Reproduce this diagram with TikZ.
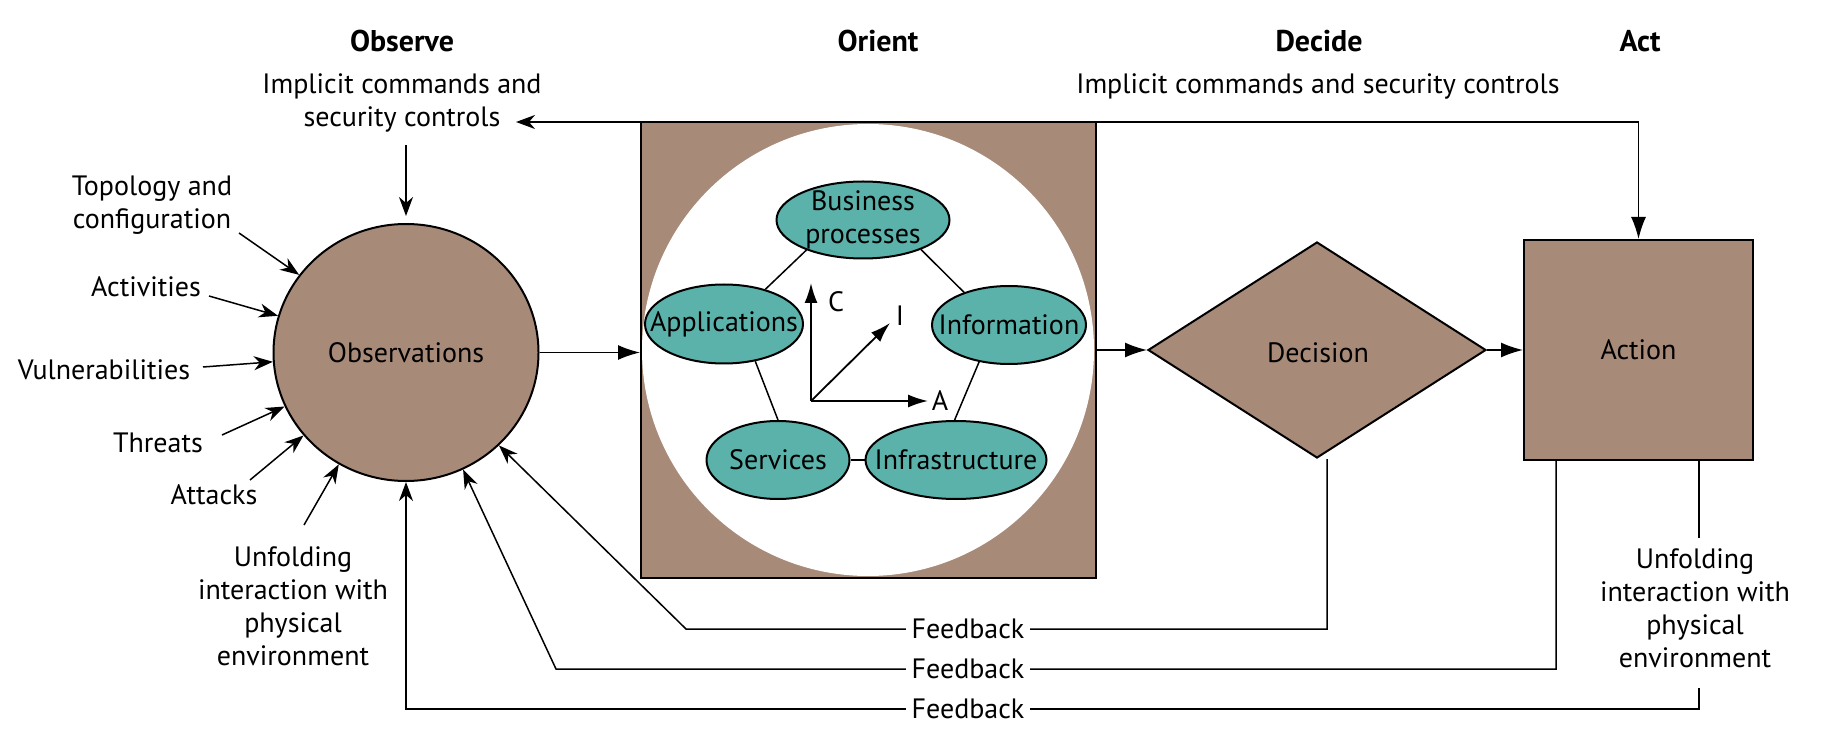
\documentclass[tikz,border=0pt]{standalone}
\usepackage{fontspec}
\setmainfont{PT Sans}
\usetikzlibrary{shapes.geometric,arrows.meta,calc}
\definecolor{brn}{RGB}{168,138,121}
\definecolor{tl}{RGB}{91,178,171}
\begin{document}
\begin{tikzpicture}[x=0.5pt,y=-0.5pt,
  every node/.style={font=\fontsize{14}{16.5}\selectfont, inner sep=0pt},
  txt/.style={align=center},
  ttl/.style={font=\fontsize{15}{16}\selectfont\bfseries},
  ln/.style={line width=0.75pt, draw=black},
  arr/.style={ln,-{Stealth[length=9.5pt,width=7pt,inset=3pt]}},
  tri/.style={ln,-{Latex[length=11pt,width=7.5pt]}},
  axarr/.style={ln,line width=0.9pt,-{Latex[length=10pt,width=6.5pt]}},
  brbox/.style={draw, line width=1pt, fill=brn},
  elli/.style={ellipse, draw, line width=1pt, fill=tl, inner sep=0pt},
  fb/.style={fill=white, inner xsep=3pt, inner ysep=2pt}
]
\useasboundingbox (0,0) rectangle (1846,748);

% titles
\node[ttl] (tObs) at (402,41) {Observe};
\node[ttl] (tOri) at (878,41) {Orient};
\node[ttl] (tDec) at (1319,41) {Decide};
\node[ttl] (tAct) at (1640,41) {Act};

\node[txt] (obsimp) at (402,103) {Implicit commands and\\security controls};
\node (decimp) at (1318,86) {Implicit commands and security controls};

% main shapes
\node[brbox, ellipse, minimum width=132.5pt, minimum height=128.5pt] (obs) at (406,352.5) {};
\node at (obs.center) {Observations};

\node[brbox, rectangle, minimum width=227.5pt, minimum height=228pt] (orient) at (868.5,350) {};
\node[circle, fill=white, minimum size=226pt] (wc) at (868,350) {};

\node[brbox, diamond, minimum width=169pt, minimum height=108pt] (dec) at (1317,350) {};
\node at (1318,353) {Decision};

\node[brbox, rectangle, minimum width=114.5pt, minimum height=110pt] (act) at (1638.5,350) {};
\node at (act.center) {Action};

% orient ellipses
\node[elli, minimum width=86.5pt, minimum height=38.5pt] (bp) at (863,220) {};
\node[txt] at (bp.center) {Business\\processes};
\node[elli, minimum width=79pt, minimum height=39.5pt] (app) at (724,324) {};
\node at (app.center) {Applications};
\node[elli, minimum width=77pt, minimum height=39pt] (info) at (1009,325) {};
\node at (info.center) {Information};
\node[elli, minimum width=71.5pt, minimum height=39pt] (sv) at (778,460) {};
\node at (sv.center) {Services};
\node[elli, minimum width=90.5pt, minimum height=39pt] (inf) at (956,460) {};
\node at (inf.center) {Infrastructure};

\draw[ln] (bp.208) -- (app.40);
\draw[ln] (bp.333) -- (info.144);
\draw[ln] (app.310) -- (sv.90);
\draw[ln] (info.231) -- (inf.92);
\draw[ln] (sv.east) -- (inf.west);

% axes
\coordinate (ax0) at (811,401);
\coordinate (axC) at (811,283);
\coordinate (axA) at (928,401);
\coordinate (axI) at (890,323);
\draw[axarr] (ax0) -- (axC);
\draw[axarr] (ax0) -- (axA);
\draw[axarr] (ax0) -- (axI);
\node (lC) at (836,302) {C};
\node (lI) at (900,316) {I};
\node (lA) at (940,401) {A};

% left labels
\node[txt] (topo) at (152,205) {Topology and\\configuration};
\node (acti) at (146,287) {Activities};
\node (vuln) at (104,370) {Vulnerabilities};
\node (thr) at (158,443) {Threats};
\node (atk) at (214,495) {Attacks};
\node[txt] (unfL) at (293,606) {Unfolding\\interaction with\\physical\\environment};
\node[txt] (unfR) at (1695,608) {Unfolding\\interaction with\\physical\\environment};

\coordinate (s1) at (239,233);
\coordinate (s2) at (209,296);
\coordinate (s3) at (203,367);
\coordinate (s4) at (222,435);
\coordinate (s5) at (250,480);
\coordinate (s6) at (304,525);
\draw[arr] (s1) -- (obs.144);
\draw[arr] (s2) -- (obs.164);
\draw[arr] (s3) -- (obs.184);
\draw[arr] (s4) -- (obs.204);
\draw[arr] (s5) -- (obs.219);
\draw[arr] (s6) -- (obs.239);

% top arrows
\coordinate (dA) at (406,145);
\draw[arr, shorten >=3.5pt] (dA) -- (obs.north);
\coordinate (tlft) at (516,122);
\draw[ln, {Stealth[length=9.5pt,width=7pt,inset=3pt]}-{Latex[length=11pt,width=7.5pt]}] (tlft) -- (act.north |- tlft) -- (act.north);

% main flow
\draw[tri] (obs.east) -- (obs.east -| orient.west);
\draw[tri] (orient.east |- dec.west) -- (dec.west);
\draw[tri] (dec.east) -- (dec.east -| act.west);

% feedback loops
\coordinate (d1) at (1327,459);
\coordinate (f1) at (686,629);
\draw[arr] (d1) -- (d1 |- f1) -- (f1) -- (obs.315);
\coordinate (a2) at (1556,460);
\coordinate (f2) at (556,669);
\draw[arr] (a2) -- (a2 |- f2) -- (f2) -- (obs.296);
\coordinate (a3) at (1699,460);
\coordinate (r3) at (1699,538);
\draw[ln] (a3) -- (r3);
\coordinate (b3) at (1699,688);
\coordinate (f3) at (406,709);
\draw[arr] (b3) -- (b3 |- f3) -- (f3) -- (obs.south);

\node[fb] (fb1) at (968,629) {Feedback};
\node[fb] (fb2) at (968,669) {Feedback};
\node[fb] (fb3) at (968,709) {Feedback};
\end{tikzpicture}
\end{document}
